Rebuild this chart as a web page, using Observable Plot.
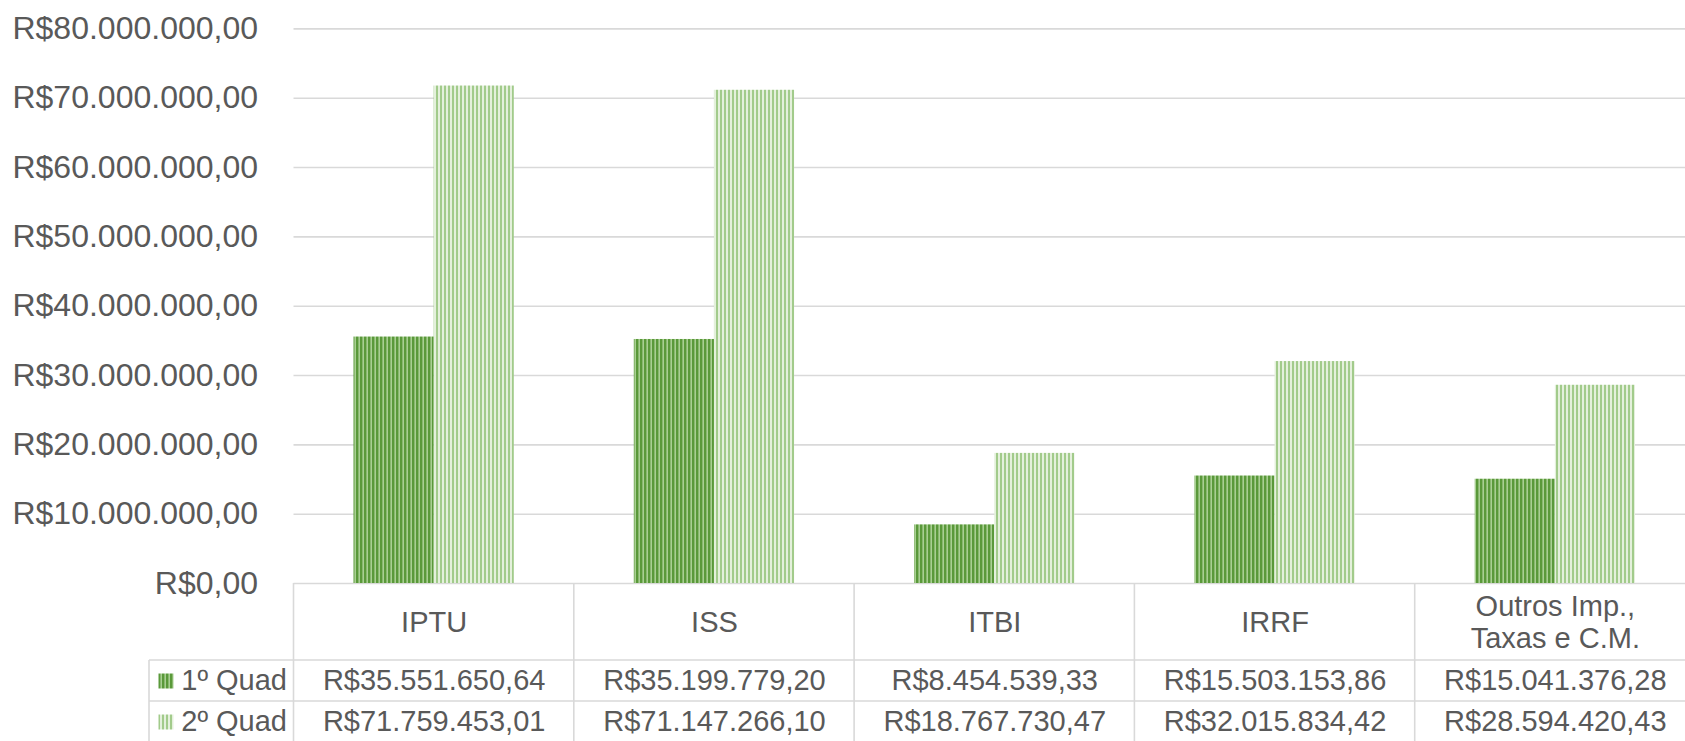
<!DOCTYPE html>
<html><head><meta charset="utf-8">
<script src="https://cdn.jsdelivr.net/npm/d3@7"></script>
<script src="https://cdn.jsdelivr.net/npm/@observablehq/plot@0.6"></script>
<style>
html,body{margin:0;padding:0;background:#fff;overflow:hidden}
#chart{width:1685px;height:741px;overflow:hidden}
</style>
</head><body><div id="chart"></div>
<script>
const categories = ["IPTU", "ISS", "ITBI", "IRRF", "Outros Imp.,\nTaxas e C.M."];
const seriesNames = ["1º Quad", "2º Quad"];
const quad1 = [35551650.64, 35199779.20, 8454539.33, 15503153.86, 15041376.28];
const quad2 = [71759453.01, 71147266.10, 18767730.47, 32015834.42, 28594420.43];
const yTicks = [0, 10000000, 20000000, 30000000, 40000000, 50000000, 60000000, 70000000, 80000000];

const locale = d3.formatLocale({decimal: ",", thousands: ".", grouping: [3], currency: ["R$", ""]});
const brl = locale.format("$,.2f");

const rows = [];
categories.forEach((c, i) => {
  rows.push({cat: c, series: seriesNames[0], value: quad1[i]});
  rows.push({cat: c, series: seriesNames[1], value: quad2[i]});
});

const W = 1685, H = 745, LEFT = 293.5, BASE = 583, TOP = 28.4;
const TXT = "#595959", LINE = "#d9d9d9", FS = 29, AXFS = 32;
const ROW1 = 97.5, ROW2 = 138.5, HEAD = 38.5;

const plot = Plot.plot({
  width: W, height: H,
  marginLeft: LEFT, marginRight: 0, marginTop: TOP, marginBottom: H - BASE,
  style: {fontFamily: "'Liberation Sans', Arial, sans-serif", fontSize: FS + "px", color: TXT, background: "#fff"},
  x: {domain: categories, range: [LEFT, 1695], padding: 0, round: false, axis: null},
  y: {domain: [0, 80000000], ticks: yTicks, tickSize: 0, tickPadding: 36, tickFormat: brl, label: null},
  color: {domain: seriesNames, range: ["url(#pDark)", "url(#pLight)"]},
  marks: [
    Plot.ruleY(yTicks, {stroke: LINE, strokeWidth: 1.6}),
    Plot.barY(rows.filter(d => d.series === seriesNames[0]), {x: "cat", y: "value", fill: "series", insetLeft: 60, insetRight: 140.15}),
    Plot.barY(rows.filter(d => d.series === seriesNames[1]), {x: "cat", y: "value", fill: "series", insetLeft: 140.15, insetRight: 60}),
    Plot.text(categories, {x: d => d, text: d => d, frameAnchor: "bottom", dy: HEAD, lineAnchor: "middle", lineHeight: 1.1, fill: TXT, fontSize: FS}),
    Plot.text(categories, {x: d => d, text: (d, i) => brl(quad1[i]), frameAnchor: "bottom", dy: ROW1, lineAnchor: "middle", fill: TXT, fontSize: FS}),
    Plot.text(categories, {x: d => d, text: (d, i) => brl(quad2[i]), frameAnchor: "bottom", dy: ROW2, lineAnchor: "middle", fill: TXT, fontSize: FS}),
    Plot.text([seriesNames[0]], {text: d => d, frameAnchor: "bottom-left", dx: -7, dy: ROW1, textAnchor: "end", lineAnchor: "middle", fill: TXT, fontSize: FS}),
    Plot.text([seriesNames[1]], {text: d => d, frameAnchor: "bottom-left", dx: -7, dy: ROW2, textAnchor: "end", lineAnchor: "middle", fill: TXT, fontSize: FS}),
    Plot.dot([seriesNames[0]], {fill: d => d, frameAnchor: "bottom-left", symbol: "square", r: 8.46, dx: -128, dy: ROW1}),
    Plot.dot([seriesNames[1]], {fill: d => d, frameAnchor: "bottom-left", symbol: "square", r: 8.46, dx: -128, dy: ROW2})
  ]
});

// larger y-axis tick labels
d3.select(plot).selectAll("g[aria-label^='y-axis']").attr("font-size", AXFS).selectAll("text").attr("font-size", AXFS);

// stripe patterns
const defs = d3.create("svg:defs");
function pat(id, fg, bg, fw) {
  const p = defs.append("pattern").attr("id", id).attr("patternUnits", "userSpaceOnUse")
    .attr("width", 4).attr("height", 4);
  p.append("rect").attr("width", 4).attr("height", 4).attr("fill", bg);
  p.append("rect").attr("width", fw).attr("height", 4).attr("fill", fg);
}
pat("pDark", "#5a993a", "#a9cf93", 2.4);
pat("pLight", "#a2cb8b", "#e4f0dc", 2);
plot.insertBefore(defs.node(), plot.firstChild);

// data table grid lines
const sx = plot.scale("x");
const bw = sx.bandwidth;
const xs = categories.map(c => sx.apply(c));
xs.push(xs[xs.length - 1] + bw);
const g = d3.select(plot).append("g").attr("stroke", LINE).attr("stroke-width", 1.6);
const legLeft = 149;
xs.forEach(x => g.append("line").attr("x1", x).attr("x2", x).attr("y1", BASE).attr("y2", BASE + 159));
g.append("line").attr("x1", legLeft).attr("x2", legLeft).attr("y1", BASE + 77).attr("y2", BASE + 159);
[BASE + 77, BASE + 118, BASE + 159].forEach(y =>
  g.append("line").attr("x1", legLeft).attr("x2", xs[xs.length - 1]).attr("y1", y).attr("y2", y));

document.getElementById("chart").appendChild(plot);
</script>
</body></html>
